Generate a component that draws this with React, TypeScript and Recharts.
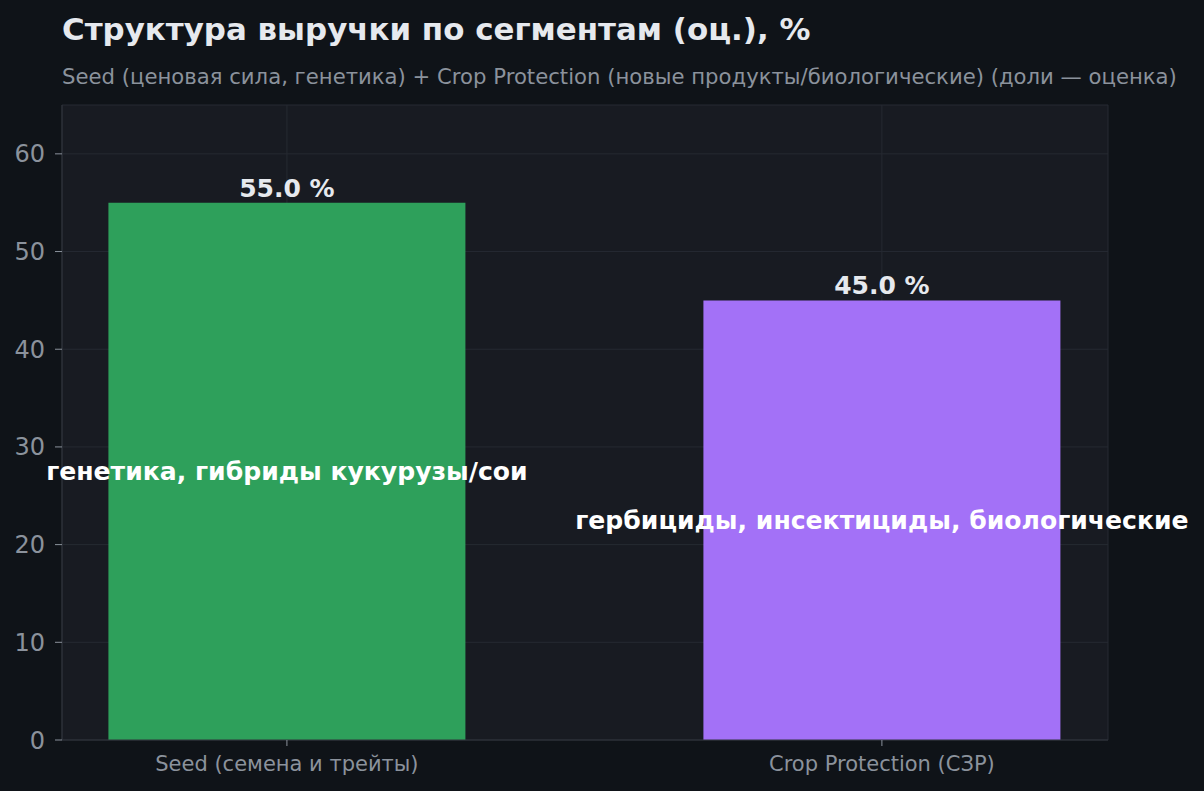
import { BarChart, Bar, XAxis, YAxis, CartesianGrid, Cell, LabelList } from 'recharts';

// Revenue split by segment, % (estimate)
const segments = ['Seed (семена и трейты)', 'Crop Protection (СЗР)'];
const shares = [55.0, 45.0];
const notes = ['генетика, гибриды кукурузы/сои', 'гербициды, инсектициды, биологические'];
const barColors = ['#2ea05b', '#a371f7'];
const yTicks = [0, 10, 20, 30, 40, 50, 60];

const data = segments.map((name, i) => ({ x: i, name, share: shares[i], note: notes[i] }));

const FONT = '"DejaVu Sans", sans-serif';
const BG = '#0f1318';
const PLOT_BG = '#181b22';
const MUTED = '#8b929c';
const TEXT = '#e6e9ee';

// note drawn in the middle of each bar, one line, no wrapping
function NoteLabel(props: any) {
    const { x, y, width, height, value } = props;
    return (
        <text
            x={Number(x) + Number(width) / 2}
            y={Number(y) + Number(height) / 2}
            textAnchor="middle"
            dominantBaseline="central"
            fill="#ffffff"
            fontWeight="bold"
            fontSize={25.1}
            fontFamily={FONT}
        >
            {value}
        </text>
    );
}

export default function App() {
    return (
        <div style={{ position: 'fixed', left: 0, top: 0, width: 1204, height: 791, background: BG }}>
            <svg width={1204} height={100} style={{ position: 'absolute', left: 0, top: 0 }}>
                <text x={62} y={40} fontFamily={FONT} fontSize={30.9} fontWeight="bold" fill={TEXT}>
                    Структура выручки по сегментам (оц.), %
                </text>
                <text x={62} y={84} fontFamily={FONT} fontSize={21.2} fill={MUTED}>
                    Seed (ценовая сила, генетика) + Crop Protection (новые продукты/биологические) (доли — оценка)
                </text>
            </svg>
            <BarChart
                width={1204}
                height={791}
                data={data}
                margin={{ top: 105, right: 96, left: 0, bottom: 0 }}
                style={{ position: 'absolute', left: 0, top: 0, fontFamily: FONT }}
            >
                <CartesianGrid fill={PLOT_BG} stroke="#262a32" strokeWidth={1} />
                <XAxis
                    type="number"
                    dataKey="x"
                    domain={[-0.378, 1.38]}
                    ticks={[0, 1]}
                    allowDataOverflow
                    height={51}
                    tickFormatter={(v: number) => segments[v] ?? ''}
                    tick={{ fill: MUTED, fontSize: 21, fontFamily: FONT }}
                    tickLine={{ stroke: MUTED }}
                    tickSize={6}
                    tickMargin={10}
                    axisLine={{ stroke: '#30343c' }}
                />
                <YAxis
                    width={62}
                    domain={[0, 65]}
                    ticks={yTicks}
                    allowDataOverflow
                    tick={{ fill: MUTED, fontSize: 24, fontFamily: FONT }}
                    tickLine={{ stroke: MUTED }}
                    tickSize={7}
                    tickMargin={10}
                    axisLine={{ stroke: '#30343c' }}
                />
                <Bar dataKey="share" barSize={357} isAnimationActive={false}>
                    {data.map((_, i) => (
                        <Cell key={`c-${i}`} fill={barColors[i]} />
                    ))}
                    <LabelList
                        dataKey="share"
                        position="top"
                        offset={6}
                        formatter={(v: number) => `${v.toFixed(1)} %`}
                        style={{ fill: TEXT, fontWeight: 'bold', fontSize: 25, fontFamily: FONT }}
                    />
                    <LabelList dataKey="note" content={NoteLabel} />
                </Bar>
            </BarChart>
        </div>
    );
}
